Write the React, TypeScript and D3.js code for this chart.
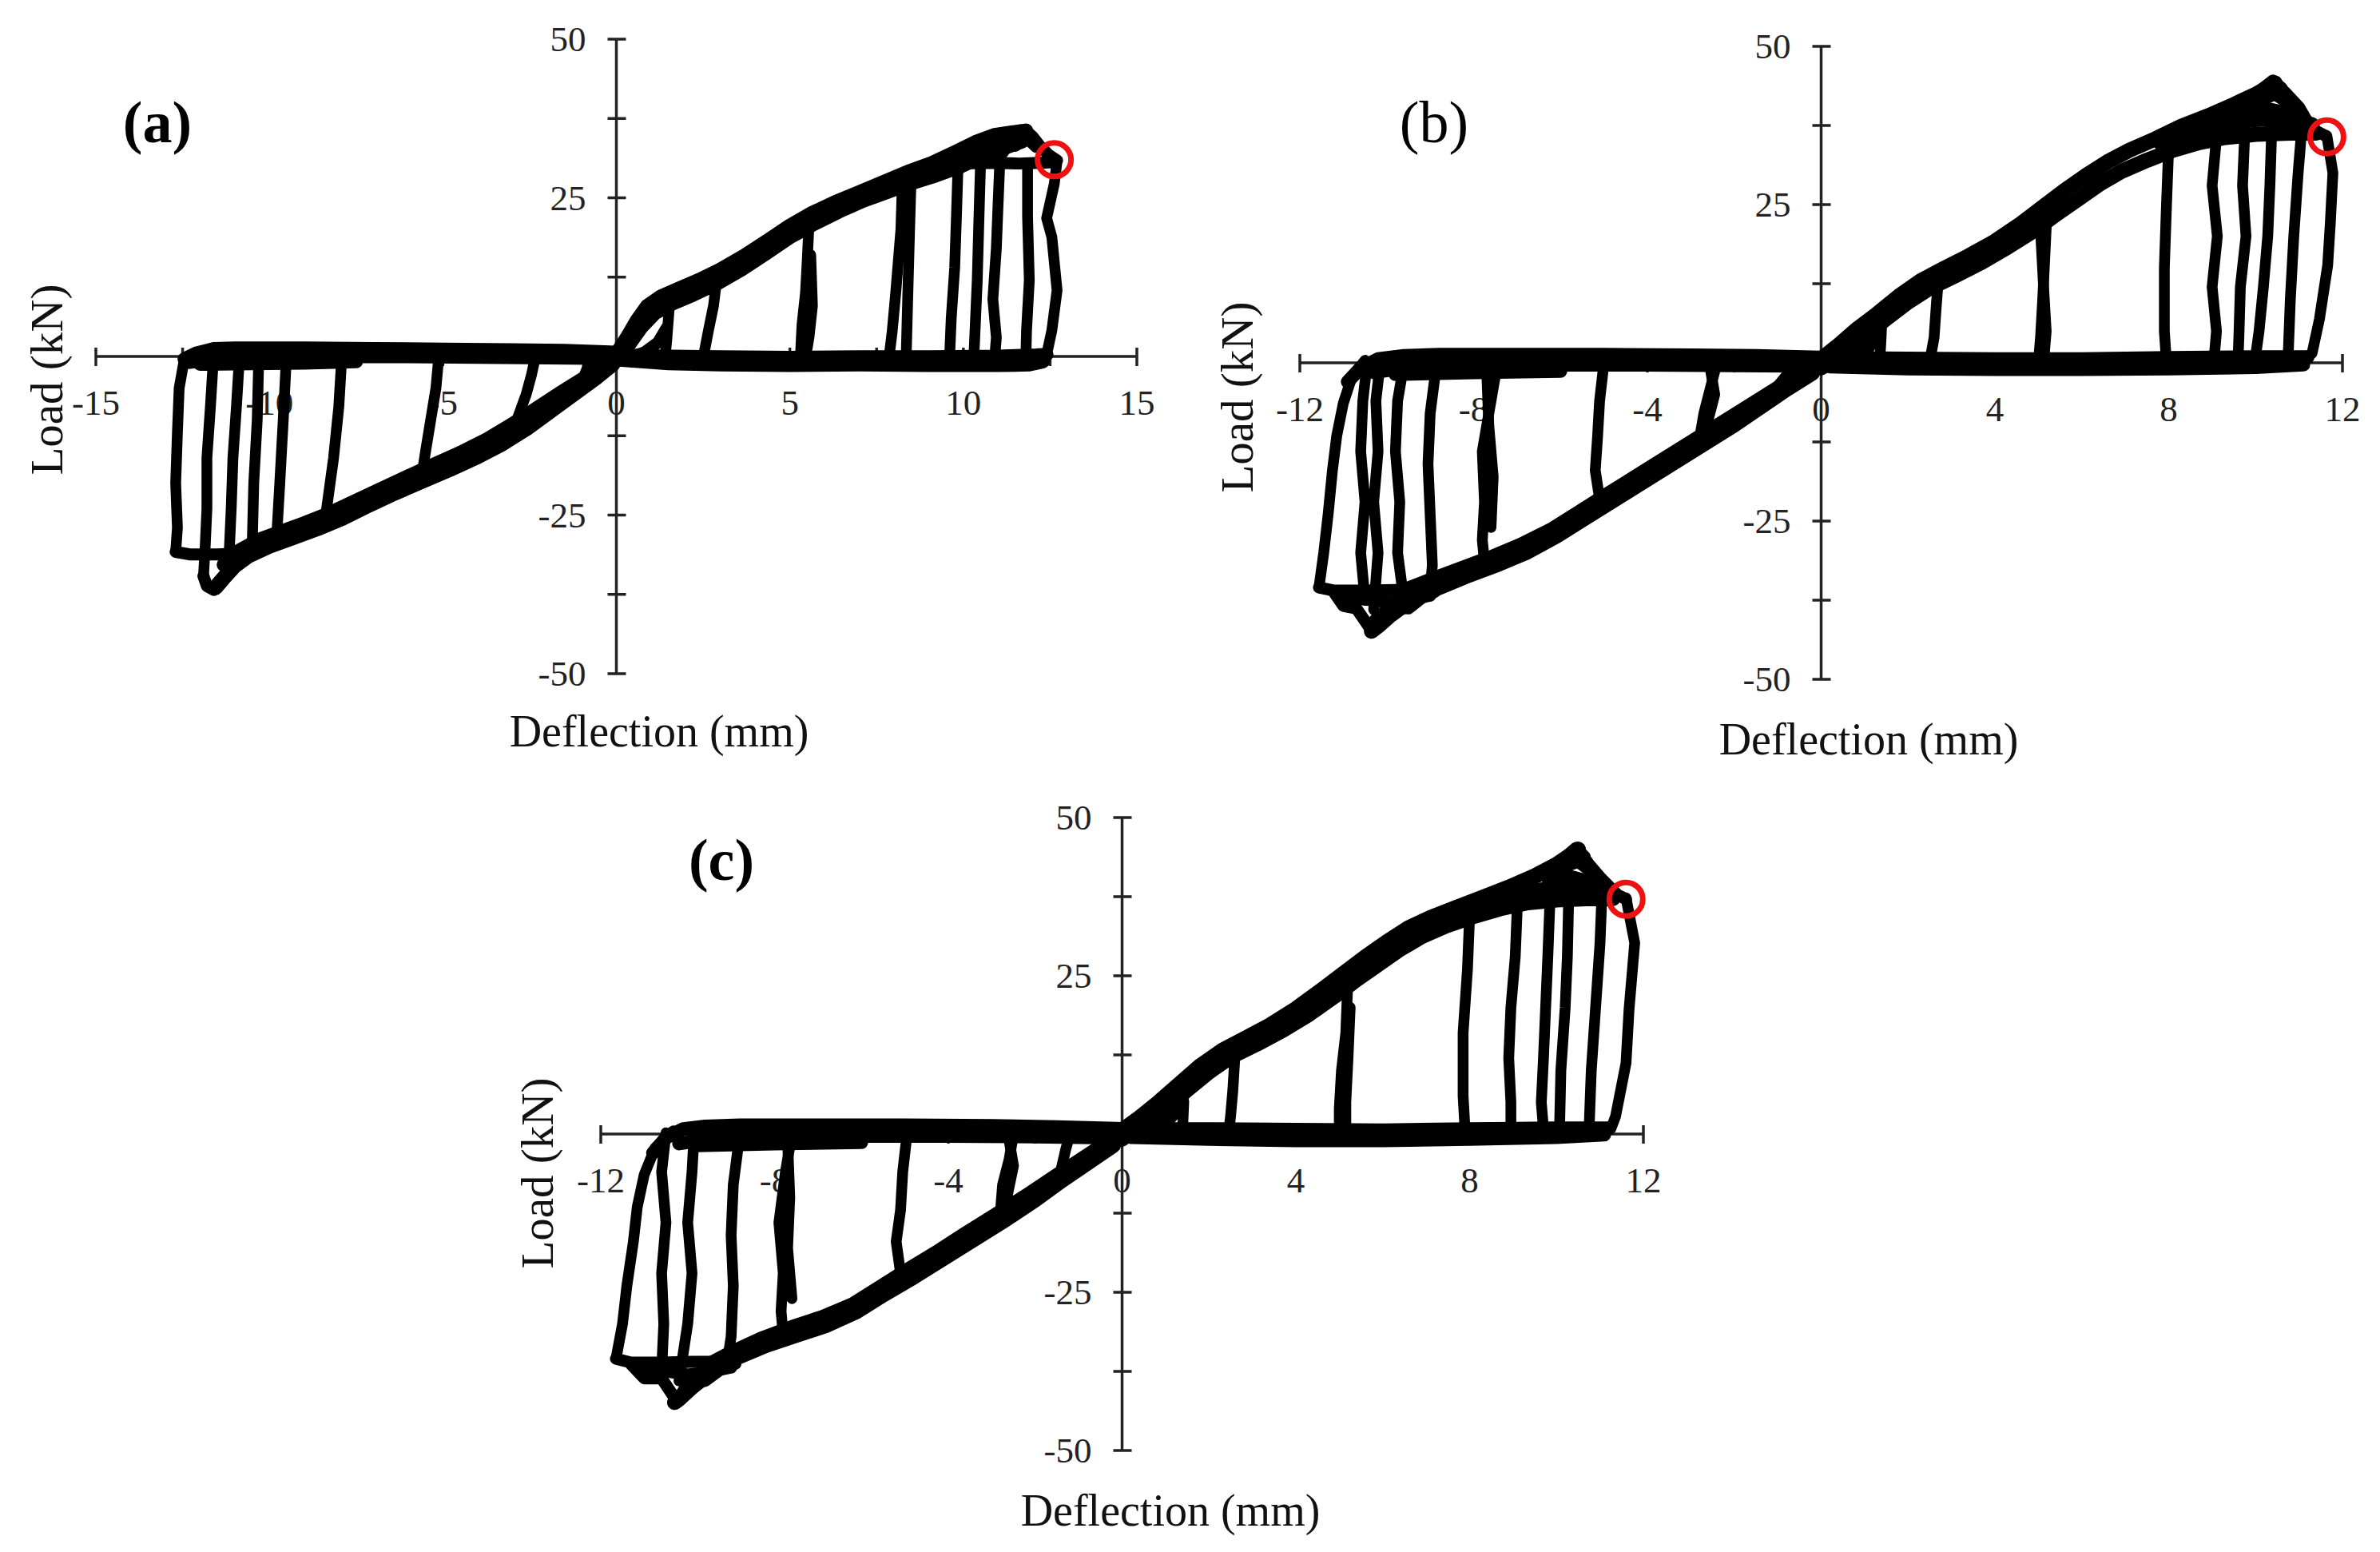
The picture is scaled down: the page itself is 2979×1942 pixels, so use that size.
import React from 'react';
import * as d3 from 'd3';

type Pt = [number, number];

// ---------- tick values ----------
const A_X_TICKS = [-15, -12.5, -10, -7.5, -5, -2.5, 0, 2.5, 5, 7.5, 10, 12.5, 15];
const A_X_LABELS = [-15, -10, -5, 0, 5, 10, 15];
const BC_X_TICKS = [-12, -10, -8, -6, -4, -2, 0, 2, 4, 6, 8, 10, 12];
const BC_X_LABELS = [-12, -8, -4, 0, 4, 8, 12];
const Y_TICKS = [-50, -37.5, -25, -12.5, 0, 12.5, 25, 37.5, 50];
const Y_LABELS = [50, 25, -25, -50];

// ---------- panel (a) ----------
const A_ENV_POS: Pt[][] = [
  [[0, 0.3], [0.3, 2.8], [0.6, 5.6], [0.9, 7.9], [1.3, 9.4], [1.8, 10.6], [2.4, 12.0], [3.0, 13.6], [3.7, 15.8], [4.4, 18.3], [5.0, 20.5], [5.6, 22.4], [6.3, 24.2], [7.0, 25.8], [7.7, 27.4], [8.4, 29.0], [9.1, 30.4], [9.8, 32.2], [10.4, 33.8], [10.9, 34.8], [11.4, 35.2], [11.8, 35.5]],
  [[-0.2, -1.2], [0.3, 1.5], [0.7, 4.6], [1.1, 6.9], [1.6, 8.4], [2.2, 9.8], [2.9, 11.6], [3.6, 13.8], [4.3, 16.3], [5.0, 18.9], [5.7, 21.0], [6.4, 22.9], [7.1, 24.6], [7.8, 26.0], [8.5, 27.4], [9.2, 28.6], [9.9, 30.0], [10.6, 31.8], [11.2, 33.0], [11.7, 34.0]],
];
const A_ENV_NEG: Pt[][] = [
  [[0.3, 1.0], [-0.3, -1.2], [-0.9, -3.4], [-1.6, -5.8], [-2.3, -8.3], [-3.0, -10.8], [-3.7, -13.1], [-4.5, -15.3], [-5.4, -17.5], [-6.2, -19.5], [-6.9, -21.3], [-7.6, -23.1], [-8.3, -24.9], [-9.0, -26.4], [-9.7, -27.8], [-10.3, -29.0], [-10.9, -30.8], [-11.3, -32.8]],
  [[-0.1, -1.2], [-0.6, -3.4], [-1.2, -5.8], [-1.9, -8.6], [-2.6, -11.4], [-3.3, -13.8], [-4.0, -15.8], [-4.8, -17.8], [-5.7, -19.9], [-6.5, -21.8], [-7.2, -23.6], [-7.9, -25.5], [-8.6, -27.1], [-9.3, -28.5], [-10.0, -29.9], [-10.6, -31.4], [-11.0, -33.0], [-11.3, -34.8], [-11.55, -36.4]],
];
const A_BAND_POS: Pt[][] = [
  [[0.1, 0.2], [1.5, 0.0], [3, -0.1], [5, -0.2], [7, -0.1], [9, -0.1], [11, 0.0], [12.1, 0.2], [12.4, 0.3]],
  [[0, -0.5], [1.5, -1.1], [3, -1.3], [5, -1.4], [7, -1.3], [9, -1.4], [11, -1.4], [11.9, -1.3], [12.3, -0.8]],
];
const A_BAND_NEG: Pt[][] = [
  [[0.2, 0.6], [-1.5, 0.9], [-3, 1.0], [-5, 1.1], [-7, 1.2], [-9, 1.3], [-11, 1.3], [-11.6, 1.2], [-12.1, 0.5], [-12.45, -0.4]],
  [[0, -0.3], [-2, -0.2], [-4, -0.1], [-6, 0.0], [-8, 0.0], [-10, -0.1], [-11.5, -0.4], [-12.3, -0.9]],
  [[-7.5, -0.8], [-9, -1.0], [-10.5, -1.1], [-12, -1.2]],
];
const A_UNLOAD_POS: Pt[][] = [
  [[1.55, 9.8], [1.5, 6.0], [1.45, 2.5], [1.4, -0.3]],
  [[2.9, 12.6], [2.8, 8.0], [2.65, 4.0], [2.5, -0.3]],
  [[5.55, 20.8], [5.5, 15.0], [5.45, 10.0], [5.35, 5.0], [5.3, -0.5]],
  [[5.6, 16.0], [5.65, 8.0], [5.55, 3.0], [5.45, -0.3]],
  [[8.25, 28.8], [8.2, 20.0], [8.05, 10.0], [7.95, 4.0], [7.85, -0.5]],
  [[8.5, 29.2], [8.45, 20.0], [8.4, 10.0], [8.35, -0.5]],
  [[9.85, 30.8], [9.8, 22.0], [9.75, 14.0], [9.65, 6.0], [9.6, -0.5]],
  [[10.5, 31.4], [10.45, 22.0], [10.4, 12.0], [10.3, -0.5]],
  [[11.05, 30.6], [11.0, 24.0], [10.95, 17.0], [10.85, 9.0], [10.95, 3.0], [10.9, -0.5]],
  [[11.85, 30.4], [11.85, 22.0], [11.9, 12.0], [11.82, 4.0], [11.8, -0.5]],
  [[12.7, 30.8], [12.62, 27.2], [12.4, 21.8], [12.55, 18.8], [12.7, 10.4], [12.55, 4.1], [12.42, 0.8], [12.25, -0.6]],
];
const A_UNLOAD_NEG: Pt[][] = [
  [[-12.45, -0.4], [-12.6, -5.0], [-12.65, -12.0], [-12.7, -20.0], [-12.65, -27.0], [-12.7, -30.8]],
  [[-11.6, 0.8], [-11.7, -8.0], [-11.8, -16.0], [-11.8, -24.0], [-11.85, -30.0], [-11.9, -34.8]],
  [[-10.85, 1.0], [-10.95, -8.0], [-11.05, -16.0], [-11.1, -24.0], [-11.15, -30.0], [-11.2, -33.6]],
  [[-10.3, 1.0], [-10.35, -10.0], [-10.45, -20.0], [-10.5, -31.0]],
  [[-9.5, 1.0], [-9.6, -10.0], [-9.7, -20.0], [-9.8, -29.5]],
  [[-7.9, 1.1], [-8.0, -8.0], [-8.15, -16.0], [-8.3, -22.0], [-8.4, -26.0]],
  [[-5.1, 1.0], [-5.2, -5.0], [-5.35, -10.0], [-5.5, -15.0], [-5.6, -18.6]],
  [[-2.3, 0.8], [-2.45, -3.0], [-2.6, -6.0], [-2.8, -9.0], [-2.95, -11.2]],
  [[-0.75, 0.6], [-0.85, -2.0], [-1.0, -4.0]],
];
const A_EXTRA: Pt[][] = [
  [[10.4, 33.6], [10.9, 34.8], [11.3, 35.2], [11.6, 35.6], [11.8, 35.6], [12.0, 34.6], [12.2, 33.2], [12.45, 31.8], [12.7, 30.9]],
  [[10.0, 30.4], [10.8, 30.5], [11.6, 30.4], [12.2, 30.5], [12.6, 30.6]],
  [[10.95, 30.8], [11.3, 33.4], [11.6, 35.0]],
  [[11.5, 33.2], [11.8, 34.6], [12.1, 33.0]],
  [[-12.7, -30.8], [-12.3, -31.2], [-11.5, -31.2], [-10.7, -31.0], [-10.0, -30.0]],
  [[-11.9, -34.6], [-11.8, -36.2], [-11.6, -36.8], [-11.4, -35.8], [-11.2, -34.0]],
  [[0.2, -0.5], [0.8, 0.6], [1.2, 2.2], [1.45, 4.5]],
];
const A_FAILURE: Pt = [12.62, 31.0];

// ---------- panel (b) ----------
const B_ENV_POS: Pt[][] = [
  [[0, 0.6], [0.4, 2.8], [0.8, 5.2], [1.3, 7.8], [1.8, 10.6], [2.3, 13.0], [2.8, 14.8], [3.4, 16.9], [4.0, 19.2], [4.6, 22.0], [5.1, 24.6], [5.6, 27.2], [6.1, 29.6], [6.6, 31.8], [7.1, 33.6], [7.7, 35.4], [8.3, 37.4], [8.9, 39.0], [9.5, 40.8], [10.0, 42.4], [10.3, 43.6], [10.45, 44.2]],
  [[0, -0.8], [0.5, 1.6], [1.0, 4.2], [1.5, 7.0], [2.0, 9.6], [2.5, 11.8], [3.1, 13.8], [3.7, 15.9], [4.3, 18.3], [4.9, 20.9], [5.4, 23.4], [5.9, 25.8], [6.4, 28.2], [6.9, 30.2], [7.5, 32.0], [8.1, 33.6], [8.7, 34.8], [9.3, 35.6], [10.0, 36.1], [10.8, 36.3], [11.4, 36.3]],
  [[7.8, 34.8], [8.6, 36.6], [9.4, 38.0], [10.2, 38.6], [10.9, 38.4], [11.3, 37.6]],
];
const B_ENV_NEG: Pt[][] = [
  [[0.3, 1.2], [-0.3, -1.0], [-0.9, -3.6], [-1.5, -6.2], [-2.2, -9.2], [-2.9, -12.2], [-3.6, -15.2], [-4.3, -18.2], [-5.0, -21.2], [-5.6, -23.8], [-6.2, -26.4], [-6.9, -28.8], [-7.6, -30.8], [-8.3, -32.6], [-9.0, -34.4], [-9.6, -36.0]],
  [[-0.2, -1.6], [-0.8, -4.2], [-1.4, -7.0], [-2.0, -9.8], [-2.7, -12.8], [-3.4, -15.8], [-4.1, -18.8], [-4.8, -21.8], [-5.5, -24.8], [-6.1, -27.4], [-6.8, -30.0], [-7.5, -32.0], [-8.2, -33.8], [-8.9, -35.8], [-9.5, -37.8], [-9.9, -39.8], [-10.2, -41.6], [-10.35, -42.4]],
];
const B_BAND_POS: Pt[][] = [
  [[0.2, 0.8], [2, 0.7], [4, 0.6], [6, 0.6], [8, 0.8], [10, 0.9], [11.2, 0.9]],
  [[0.2, -0.6], [2, -0.9], [4, -1.0], [6, -1.0], [8, -0.9], [10, -0.7], [11.1, -0.3]],
];
const B_BAND_NEG: Pt[][] = [
  [[0.2, 0.8], [-1.5, 1.1], [-3, 1.2], [-5, 1.3], [-7, 1.3], [-8.8, 1.3], [-9.6, 1.1], [-10.2, 0.6], [-10.6, -0.8], [-10.9, -3.0]],
  [[0, -0.5], [-2, -0.4], [-4, -0.3], [-6, -0.3], [-8, -0.4], [-9.5, -0.7], [-10.3, -1.5]],
  [[-6, -1.3], [-8, -1.5], [-9.8, -1.8]],
];
const B_UNLOAD_POS: Pt[][] = [
  [[1.4, 7.4], [1.38, 4.0], [1.35, 0.4]],
  [[2.7, 13.4], [2.65, 9.0], [2.6, 4.0], [2.5, 0.2]],
  [[5.2, 24.2], [5.15, 17.0], [5.1, 10.0], [5.05, 4.0], [5.0, 0.0]],
  [[5.05, 21.0], [5.12, 12.0], [5.18, 5.0], [5.12, 0.0]],
  [[8.0, 34.2], [7.95, 25.0], [7.9, 15.0], [7.9, 5.0], [7.95, 0.0]],
  [[9.1, 35.6], [9.0, 28.0], [9.12, 20.0], [9.0, 12.0], [9.1, 5.0], [9.05, 1.0]],
  [[9.75, 36.1], [9.7, 28.0], [9.78, 20.0], [9.65, 12.0], [9.62, 5.0], [9.6, 1.0]],
  [[10.37, 36.4], [10.33, 28.0], [10.28, 20.0], [10.18, 12.0], [10.08, 5.0], [10.0, 1.0]],
  [[11.08, 38.4], [10.98, 30.0], [10.88, 20.0], [10.8, 10.0], [10.75, 1.0]],
  [[11.64, 35.9], [11.78, 30.0], [11.72, 22.0], [11.66, 15.4], [11.47, 6.9], [11.3, 1.5], [11.1, 0.6]],
];
const B_UNLOAD_NEG: Pt[][] = [
  [[-10.5, 0.4], [-10.8, -2.2], [-11.0, -6.4], [-11.15, -11.5], [-11.25, -17.0], [-11.35, -24.0], [-11.45, -30.0], [-11.56, -35.5]],
  [[-10.45, 0.0], [-10.55, -6.0], [-10.6, -14.0], [-10.5, -22.0], [-10.6, -30.0], [-10.5, -37.5]],
  [[-10.15, 0.0], [-10.25, -6.0], [-10.2, -14.0], [-10.3, -22.0], [-10.2, -30.0], [-10.3, -39.0]],
  [[-9.6, 0.0], [-9.75, -6.0], [-9.8, -14.0], [-9.7, -22.0], [-9.75, -30.0], [-9.6, -37.8]],
  [[-8.85, 0.0], [-9.0, -8.0], [-9.05, -16.0], [-9.0, -24.0], [-8.95, -32.0], [-9.0, -35.8]],
  [[-7.45, 0.0], [-7.6, -6.0], [-7.8, -14.0], [-7.75, -22.0], [-7.8, -28.0], [-7.75, -31.5]],
  [[-7.7, -1.0], [-7.65, -10.0], [-7.55, -18.0], [-7.6, -26.0]],
  [[-5.0, 0.0], [-5.1, -6.0], [-5.15, -12.0], [-5.2, -17.0], [-5.1, -21.5]],
  [[-2.4, 0.0], [-2.55, -4.0], [-2.7, -8.0], [-2.8, -12.0]],
  [[-2.55, -1.0], [-2.45, -5.0], [-2.6, -9.0]],
  [[-0.6, 0.0], [-0.8, -2.0], [-1.1, -4.5]],
];
const B_EXTRA: Pt[][] = [
  [[10.45, 44.2], [10.7, 42.6], [11.0, 40.4], [11.2, 38.0], [11.4, 36.6], [11.6, 35.9]],
  [[10.1, 43.0], [10.4, 44.6], [10.6, 43.4]],
  [[9.4, 39.6], [10.0, 41.2], [10.45, 42.4], [10.8, 40.8], [11.05, 38.8]],
  [[9.8, 39.0], [10.3, 40.2], [10.7, 39.6]],
  [[-11.56, -35.5], [-11.2, -36.0], [-10.5, -36.0], [-9.8, -35.9], [-9.2, -35.8], [-8.6, -34.6]],
  [[-11.2, -36.4], [-11.0, -38.4], [-10.7, -38.8], [-10.4, -41.8], [-10.2, -40.0], [-9.9, -38.6], [-9.5, -38.8], [-9.2, -37.2], [-8.9, -36.2]],
  [[-11.0, -37.0], [-10.5, -37.4], [-10.0, -37.8], [-9.5, -37.4], [-9.0, -36.8]],
  [[0.2, -0.6], [0.7, 0.6], [1.1, 2.4], [1.35, 5.0]],
];
const B_FAILURE: Pt = [11.64, 35.7];

// ---------- panel (c) ----------
const C_ENV_POS: Pt[][] = [
  [[0, 0.6], [0.4, 2.6], [0.8, 4.8], [1.3, 7.8], [1.8, 10.8], [2.3, 13.2], [2.8, 15.0], [3.4, 17.2], [4.0, 19.8], [4.6, 22.8], [5.1, 25.4], [5.6, 28.0], [6.1, 30.4], [6.6, 32.6], [7.1, 34.2], [7.7, 35.8], [8.3, 37.4], [8.9, 39.0], [9.5, 40.8], [10.0, 42.6], [10.3, 44.0], [10.5, 45.0]],
  [[0, -0.8], [0.5, 1.6], [1.0, 4.0], [1.5, 7.0], [2.0, 9.8], [2.5, 12.2], [3.1, 14.2], [3.7, 16.4], [4.3, 18.9], [4.9, 21.8], [5.4, 24.4], [5.9, 26.8], [6.4, 29.2], [6.9, 31.2], [7.5, 33.0], [8.1, 34.4], [8.7, 35.6], [9.3, 36.5], [10.0, 37.0], [10.8, 37.2], [11.3, 37.2]],
  [[7.8, 35.2], [8.6, 37.0], [9.4, 38.4], [10.2, 38.9], [10.9, 38.7], [11.3, 37.9]],
];
const C_ENV_NEG: Pt[][] = [
  [[0.3, 1.2], [-0.3, -1.2], [-0.9, -3.9], [-1.5, -6.6], [-2.2, -9.8], [-2.9, -12.8], [-3.6, -15.8], [-4.3, -18.9], [-5.0, -21.8], [-5.6, -24.4], [-6.2, -27.0], [-6.9, -29.0], [-7.6, -30.6], [-8.3, -32.4], [-9.0, -34.6], [-9.6, -36.8]],
  [[-0.2, -1.8], [-0.8, -4.6], [-1.4, -7.4], [-2.0, -10.4], [-2.7, -13.6], [-3.4, -16.6], [-4.1, -19.6], [-4.8, -22.6], [-5.5, -25.4], [-6.1, -28.0], [-6.8, -30.2], [-7.5, -31.8], [-8.2, -33.4], [-8.9, -35.4], [-9.5, -37.8], [-9.9, -40.0], [-10.2, -41.9], [-10.3, -42.4]],
];
const C_BAND_POS: Pt[][] = [
  [[0.2, 0.8], [2, 0.8], [4, 0.7], [6, 0.6], [8, 0.8], [10, 0.9], [11.2, 0.9]],
  [[0.2, -0.5], [2, -0.8], [4, -1.0], [6, -1.0], [8, -0.8], [10, -0.5], [11.1, -0.1]],
];
const C_BAND_NEG: Pt[][] = [
  [[0.2, 0.8], [-1.5, 1.1], [-3, 1.3], [-5, 1.4], [-7, 1.4], [-8.8, 1.4], [-9.6, 1.2], [-10.1, 0.8], [-10.5, -0.6], [-10.8, -3.0]],
  [[0, -0.6], [-2, -0.4], [-4, -0.3], [-6, -0.3], [-8, -0.5], [-9.5, -0.8], [-10.2, -1.5]],
  [[-6, -1.3], [-8, -1.5], [-9.8, -1.8]],
];
const C_UNLOAD_POS: Pt[][] = [
  [[1.42, 5.2], [1.4, 2.0], [1.38, 0.2]],
  [[2.6, 12.6], [2.55, 7.0], [2.5, 3.0], [2.45, 0.0]],
  [[5.2, 24.8], [5.15, 16.0], [5.05, 10.0], [5.0, 4.0], [5.0, 0.0]],
  [[5.25, 20.0], [5.2, 12.0], [5.15, 5.0], [5.15, 0.0]],
  [[8.0, 34.6], [7.95, 26.0], [7.85, 16.0], [7.85, 6.0], [7.9, 0.0]],
  [[9.1, 36.4], [9.05, 28.0], [8.95, 20.0], [8.9, 12.0], [8.95, 5.0], [8.95, 0.8]],
  [[9.85, 37.0], [9.8, 28.0], [9.75, 20.0], [9.7, 12.0], [9.65, 5.0], [9.7, 0.8]],
  [[10.28, 37.2], [10.25, 28.0], [10.2, 20.0], [10.1, 10.0], [10.07, 0.8]],
  [[11.05, 38.6], [11.0, 30.0], [10.9, 20.0], [10.8, 10.0], [10.75, 0.8]],
  [[11.6, 37.3], [11.8, 30.2], [11.67, 19.7], [11.6, 11.2], [11.36, 2.8], [11.25, 0.8], [11.05, 0.3]],
];
const C_UNLOAD_NEG: Pt[][] = [
  [[-10.33, 0.5], [-10.75, -2.2], [-11.0, -6.4], [-11.16, -11.5], [-11.25, -17.0], [-11.4, -24.0], [-11.5, -30.0], [-11.65, -35.5]],
  [[-10.5, 0.2], [-10.6, -6.0], [-10.5, -14.0], [-10.6, -22.0], [-10.55, -30.0], [-10.6, -37.5]],
  [[-9.85, 0.2], [-9.9, -6.0], [-10.0, -14.0], [-9.9, -22.0], [-10.0, -30.0], [-10.2, -39.0]],
  [[-8.8, 0.0], [-8.95, -8.0], [-9.0, -16.0], [-8.95, -24.0], [-9.0, -32.0], [-9.1, -36.5]],
  [[-7.6, 0.0], [-7.75, -6.0], [-7.9, -14.0], [-7.8, -22.0], [-7.85, -28.0], [-7.8, -31.8]],
  [[-7.7, -1.0], [-7.65, -10.0], [-7.7, -18.0], [-7.6, -26.0]],
  [[-4.95, 0.0], [-5.05, -6.0], [-5.1, -12.0], [-5.2, -17.0], [-5.1, -22.0]],
  [[-2.5, 0.0], [-2.6, -4.0], [-2.75, -8.0], [-2.8, -12.2]],
  [[-2.6, -1.0], [-2.5, -5.0], [-2.65, -10.0]],
  [[-1.2, 0.0], [-1.3, -2.5], [-1.4, -5.5]],
];
const C_EXTRA: Pt[][] = [
  [[10.5, 45.0], [10.75, 42.6], [11.0, 40.6], [11.2, 39.2], [11.4, 37.8], [11.6, 37.1]],
  [[10.15, 43.4], [10.45, 45.2], [10.65, 43.8]],
  [[9.4, 40.2], [10.0, 41.8], [10.5, 43.0], [10.85, 41.2], [11.1, 39.6]],
  [[9.8, 39.6], [10.3, 40.8], [10.75, 40.0]],
  [[-11.65, -35.5], [-11.3, -36.1], [-10.6, -36.1], [-9.9, -36.0], [-9.3, -36.0], [-8.7, -35.0]],
  [[-11.3, -36.4], [-11.0, -38.6], [-10.6, -38.6], [-10.25, -42.2], [-10.0, -39.5], [-9.6, -39.0], [-9.2, -37.0], [-8.9, -36.3]],
  [[-11.0, -37.2], [-10.5, -37.5], [-10.0, -38.0], [-9.5, -37.6], [-9.0, -36.9]],
  [[0.2, -0.6], [0.7, 0.6], [1.1, 2.4], [1.4, 4.6]],
];
const C_FAILURE: Pt = [11.6, 37.1];

// ---------- layout ----------
const FONT = "'Liberation Serif', 'Times New Roman', serif";

interface CurveGroup { lines: Pt[][]; width: number; }

interface PanelSpec {
  label: string;
  bold: boolean;
  xDomain: [number, number];
  xTicks: number[];
  xLabels: number[];
  x0: number; x1: number; yTop: number; yBot: number;
  labelPos: [number, number];
  xTitle: [number, number];
  yTitle: [number, number];
  groups: CurveGroup[];
  failure: Pt;
}

const BAND_W = 17;
const ENV_W = 19;
const UNLOAD_W = 13.5;
const EXTRA_W = 15;

const PANELS: PanelSpec[] = [
  {
    label: '(a)', bold: true, xDomain: [-15, 15], xTicks: A_X_TICKS, xLabels: A_X_LABELS,
    x0: 120, x1: 1423, yTop: 49, yBot: 843, labelPos: [197, 158], xTitle: [825, 934], yTitle: [78, 475],
    groups: [
      { lines: A_BAND_POS, width: BAND_W }, { lines: A_BAND_NEG, width: BAND_W },
      { lines: A_ENV_POS, width: ENV_W }, { lines: A_ENV_NEG, width: ENV_W },
      { lines: A_UNLOAD_POS, width: UNLOAD_W }, { lines: A_UNLOAD_NEG, width: UNLOAD_W },
      { lines: A_EXTRA, width: EXTRA_W },
    ],
    failure: A_FAILURE,
  },
  {
    label: '(b)', bold: false, xDomain: [-12, 12], xTicks: BC_X_TICKS, xLabels: BC_X_LABELS,
    x0: 1627, x1: 2932, yTop: 58, yBot: 850, labelPos: [1795, 158], xTitle: [2339, 944], yTitle: [1568, 497],
    groups: [
      { lines: B_BAND_POS, width: BAND_W }, { lines: B_BAND_NEG, width: BAND_W },
      { lines: B_ENV_POS, width: ENV_W }, { lines: B_ENV_NEG, width: ENV_W },
      { lines: B_UNLOAD_POS, width: UNLOAD_W }, { lines: B_UNLOAD_NEG, width: UNLOAD_W },
      { lines: B_EXTRA, width: EXTRA_W },
    ],
    failure: B_FAILURE,
  },
  {
    label: '(c)', bold: true, xDomain: [-12, 12], xTicks: BC_X_TICKS, xLabels: BC_X_LABELS,
    x0: 752, x1: 2057, yTop: 1023, yBot: 1815, labelPos: [903, 1081], xTitle: [1465, 1909], yTitle: [692, 1468],
    groups: [
      { lines: C_BAND_POS, width: BAND_W }, { lines: C_BAND_NEG, width: BAND_W },
      { lines: C_ENV_POS, width: ENV_W }, { lines: C_ENV_NEG, width: ENV_W },
      { lines: C_UNLOAD_POS, width: UNLOAD_W }, { lines: C_UNLOAD_NEG, width: UNLOAD_W },
      { lines: C_EXTRA, width: EXTRA_W },
    ],
    failure: C_FAILURE,
  },
];

function Panel({ spec }: { spec: PanelSpec }) {
  const x = d3.scaleLinear().domain(spec.xDomain).range([spec.x0, spec.x1]);
  const y = d3.scaleLinear().domain([-50, 50]).range([spec.yBot, spec.yTop]);
  const line = d3.line<Pt>().x((d) => x(d[0])).y((d) => y(d[1])).curve(d3.curveLinear);
  const ax = x(0);
  const ay = y(0);
  const axisColor = '#222';
  return (
    <g>
      {/* axes */}
      <line x1={x(spec.xDomain[0])} x2={x(spec.xDomain[1])} y1={ay} y2={ay} stroke={axisColor} strokeWidth={3.5} />
      <line x1={ax} x2={ax} y1={y(50)} y2={y(-50)} stroke={axisColor} strokeWidth={3.5} />
      {spec.xTicks.map((t) => (
        <line key={'xt' + t} x1={x(t)} x2={x(t)} y1={ay - 11} y2={ay + 12} stroke={axisColor} strokeWidth={3.5} />
      ))}
      {Y_TICKS.map((t) => (
        <line key={'yt' + t} x1={ax - 11} x2={ax + 12} y1={y(t)} y2={y(t)} stroke={axisColor} strokeWidth={3.5} />
      ))}
      {spec.xLabels.map((t) => (
        <text key={'xl' + t} x={x(t)} y={ay + 73} textAnchor="middle" fontFamily={FONT} fontSize={45} fill="#222">
          {String(t)}
        </text>
      ))}
      {Y_LABELS.map((t) => (
        <text key={'yl' + t} x={ax - 38} y={y(t) + 15} textAnchor="end" fontFamily={FONT} fontSize={45} fill="#222">
          {String(t)}
        </text>
      ))}
      {/* hysteresis curves */}
      {spec.groups.map((g, gi) =>
        g.lines.map((c, i) => (
          <path key={'c' + gi + '_' + i} d={line(c) || ''} fill="none" stroke="#000" strokeWidth={g.width}
            strokeLinejoin="round" strokeLinecap="round" />
        ))
      )}
      {/* failure marker */}
      <circle cx={x(spec.failure[0])} cy={y(spec.failure[1])} r={21} fill="none" stroke="#ee1111" strokeWidth={7} />
      {/* titles */}
      <text x={spec.xTitle[0]} y={spec.xTitle[1]} textAnchor="middle" fontFamily={FONT} fontSize={56} fill="#111">
        Deflection (mm)
      </text>
      <text transform={`translate(${spec.yTitle[0]},${spec.yTitle[1]}) rotate(-90)`} textAnchor="middle"
        fontFamily={FONT} fontSize={57} fill="#111">
        Load (kN)
      </text>
      <text x={spec.labelPos[0]} y={spec.labelPos[1] + 20} textAnchor="middle" fontFamily={FONT}
        fontSize={74} fontWeight={spec.bold ? 'bold' : 'normal'} fill="#000">
        {spec.label}
      </text>
    </g>
  );
}

export default function App() {
  return (
    <svg width={2979} height={1942} viewBox="0 0 2979 1942"
      style={{ position: 'absolute', left: 0, top: 0, background: '#fff' }}>
      <rect x={0} y={0} width={2979} height={1942} fill="#fff" />
      {PANELS.map((p) => (
        <Panel key={p.label} spec={p} />
      ))}
    </svg>
  );
}
